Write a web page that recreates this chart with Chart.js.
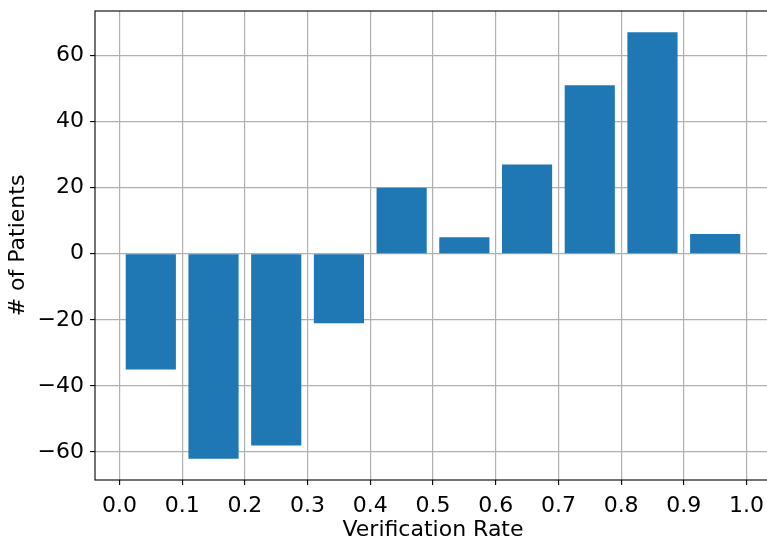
<!DOCTYPE html>
<html>
<head>
<meta charset="utf-8">
<script src="https://cdn.jsdelivr.net/npm/chart.js@4.4.1/dist/chart.umd.min.js"></script>
<style>
  html, body { margin: 0; padding: 0; background: #fff; overflow: hidden; }
  #wrap { width: 771px; height: 538px; }
</style>
</head>
<body>
<div id="wrap"><canvas id="c" width="771" height="538"></canvas></div>
<script>
// Verification-rate bins (bar centres) and net patient counts per bin
const binCenters = [0.05, 0.15, 0.25, 0.35, 0.45, 0.55, 0.65, 0.75, 0.85, 0.95];
const patientCounts = [-35, -62, -58, -21, 20, 5, 27, 51, 67, 6];
const xTicks = [0.0, 0.1, 0.2, 0.3, 0.4, 0.5, 0.6, 0.7, 0.8, 0.9, 1.0];
const yTicks = [-60, -40, -20, 0, 20, 40, 60];

const FONT = { family: 'DejaVu Sans', size: 22 };
const TITLE_FONT = { family: 'DejaVu Sans', size: 22, lineHeight: 1 };
const minus = v => (v < 0 ? '\u2212' + Math.abs(v) : String(v));

// Frame around the plotting area
const framePlugin = {
  id: 'frame',
  afterDraw(chart) {
    const { ctx, chartArea: a } = chart;
    ctx.save();
    ctx.strokeStyle = '#000';
    ctx.lineWidth = 1.1;
    ctx.strokeRect(a.left, a.top, a.right - a.left, a.bottom - a.top);
    ctx.restore();
  }
};

new Chart(document.getElementById('c'), {
  type: 'bar',
  data: {
    datasets: [{
      data: binCenters.map((x, i) => ({ x, y: patientCounts[i] })),
      backgroundColor: '#1f77b4',
      borderWidth: 0,
      categoryPercentage: 1.0,
      barPercentage: 0.8
    }]
  },
  options: {
    responsive: false,
    devicePixelRatio: 1,
    animation: false,
    layout: { padding: { top: 11, right: 0, left: 0, bottom: 0 } },
    plugins: { legend: { display: false }, tooltip: { enabled: false } },
    scales: {
      x: {
        type: 'linear',
        min: -0.039,
        max: 1.039,
        offset: false,
        z: 1,
        afterFit(s) { s.height = 58; s.paddingLeft = 0; s.paddingRight = 0; },
        afterBuildTicks(s) { s.ticks = xTicks.map(v => ({ value: v })); },
        ticks: {
          color: '#000',
          font: FONT,
          padding: 8,
          maxRotation: 0,
          autoSkip: false,
          callback: v => Number(v).toFixed(1)
        },
        grid: { offset: false, color: '#b0b0b0', lineWidth: 1.2, tickColor: '#000', tickLength: 5, tickWidth: 1.1 },
        border: { display: false },
        title: { display: true, text: 'Verification Rate', color: '#000', font: TITLE_FONT, padding: { top: 0, bottom: -3 } }
      },
      y: {
        type: 'linear',
        min: -68.45,
        max: 73.45,
        z: 1,
        afterFit(s) { s.width = 95; s.paddingTop = 0; s.paddingBottom = 0; },
        afterBuildTicks(s) { s.ticks = yTicks.map(v => ({ value: v })); },
        ticks: {
          color: '#000',
          font: FONT,
          padding: 6,
          callback: v => minus(v)
        },
        grid: { color: '#b0b0b0', lineWidth: 1.2, tickColor: '#000', tickLength: 5, tickWidth: 1.1 },
        border: { display: false },
        title: { display: true, text: '# of Patients', color: '#000', font: FONT, padding: { top: 5, bottom: 0 } }
      }
    }
  },
  plugins: [framePlugin]
});
</script>
</body>
</html>
